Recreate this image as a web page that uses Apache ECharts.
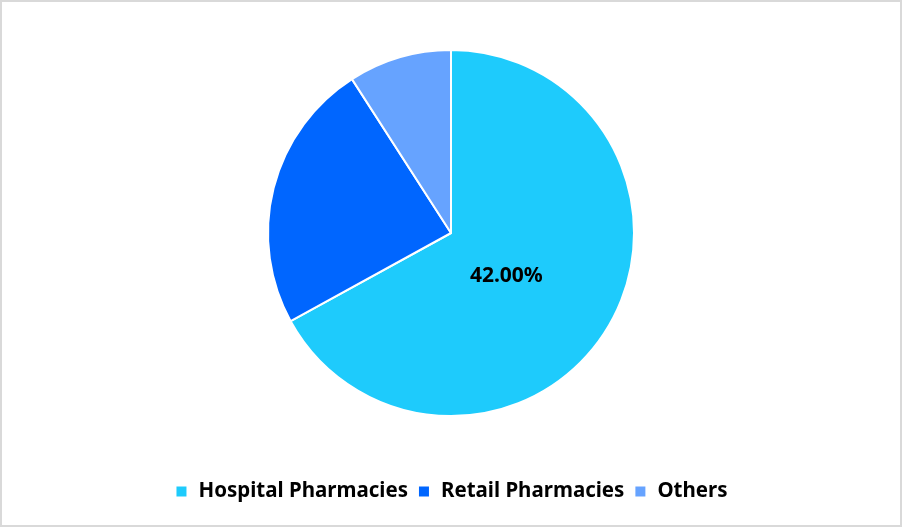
<!DOCTYPE html>
<html lang="en">
<head>
    <meta charset="UTF-8">
    <title>Distribution Channel Share</title>
    <script src="https://cdn.jsdelivr.net/npm/echarts@6/dist/echarts.min.js"></script>
    <style>
        html, body { margin: 0; padding: 0; background: #fff; }
        #main { width: 898px; height: 523px; border: 2px solid #d9d9d9; }
    </style>
</head>
<body>
<div id="main"></div>
<script type="text/javascript">
    // values (slice angles); only the big slice carries a label
    var categories = ['Hospital Pharmacies', 'Retail Pharmacies', 'Others'];
    var shares = [67.0, 23.9, 9.1];
    var sliceLabels = ['42.00%', '', ''];
    var colors = ['#1ECBFC', '#0066FF', '#66A3FF'];

    var chartDom = document.getElementById('main');
    var myChart = echarts.init(chartDom);

    var pieData = categories.map(function (name, i) {
        return {
            name: name,
            value: shares[i],
            itemStyle: { color: colors[i] },
            label: { show: sliceLabels[i] !== '', formatter: sliceLabels[i] }
        };
    });

    var option = {
        animation: false,
        legend: {
            bottom: 18,
            left: 'center',
            icon: 'rect',
            itemWidth: 12,
            itemHeight: 12,
            itemGap: 9,
            textStyle: {
                fontFamily: 'Noto Sans',
                fontWeight: 'bold',
                fontSize: 20.5,
                color: '#000',
                padding: [0, 0, 0, 6]
            },
            data: categories
        },
        series: [
            {
                type: 'pie',
                center: [449, 231],
                radius: 183,
                startAngle: 90,
                clockwise: true,
                itemStyle: { borderColor: '#fff', borderWidth: 2 },
                label: {
                    position: 'inside',
                    color: '#000',
                    fontFamily: 'Noto Sans',
                    fontWeight: 'bold',
                    fontSize: 21,
                    offset: [-26, -5]
                },
                labelLine: { show: false },
                emphasis: { disabled: true },
                data: pieData
            }
        ]
    };

    option && myChart.setOption(option);
</script>
</body>
</html>
